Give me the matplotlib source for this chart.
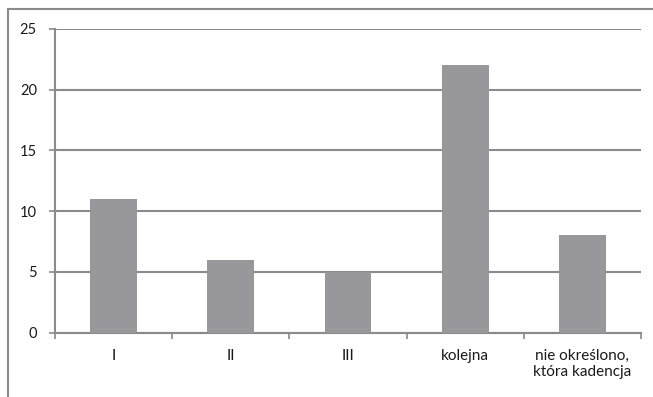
import matplotlib
matplotlib.use("Agg")
import matplotlib.pyplot as plt
from matplotlib.patches import Rectangle

categories = ["I", "II", "III", "kolejna", "nie określono,\nktóra kadencja"]
values = [11, 6, 5, 22, 8]
yticks = [0, 5, 10, 15, 20, 25]

W, H = 653, 397
fig = plt.figure(figsize=(W / 100, H / 100), dpi=100)
plt.rcParams["font.family"] = ["Lato", "DejaVu Sans"]

grid_c = "#8a8a8a"
text_c = "#1a1a1a"
bar_c = "#98989c"

# outer chart frame (only top and left edges fall inside the image)
fig.patches.append(Rectangle((8 / W, -0.1), 1.2, 1 - 9 / H + 0.1,
                             transform=fig.transFigure, fill=False,
                             edgecolor=grid_c, linewidth=1.5))

left, right, top, bottom = 55, 641, 29, 332.5
ax = fig.add_axes([left / W, 1 - bottom / H, (right - left) / W, (bottom - top) / H])

x = range(len(categories))
ax.bar(x, values, width=0.4, color=bar_c, zorder=3)
ax.set_xlim(-0.5, len(categories) - 0.5)
ax.set_ylim(0, 25)

ax.set_yticks(yticks)
ax.set_yticklabels([str(v) for v in yticks], fontsize=10.5, color=text_c)
ax.yaxis.grid(True, color=grid_c, linewidth=1.5, zorder=0)
ax.tick_params(axis="y", length=4, width=1.2, color=grid_c, pad=9)

ax.set_xticks([i + 0.5 for i in range(-1, len(categories))], minor=False)
ax.set_xticklabels([])
ax.tick_params(axis="x", which="major", length=4, width=1.2, color=grid_c,
               direction="out")
ax.set_xticks(list(x), minor=True)
ax.set_xticklabels(categories, minor=True, fontsize=11, color=text_c,
                   linespacing=1.2)
ax.tick_params(axis="x", which="minor", length=0, pad=12)

for s in ["top", "right"]:
    ax.spines[s].set_visible(False)
for s in ["left", "bottom"]:
    ax.spines[s].set_color(grid_c)
    ax.spines[s].set_linewidth(1.5)

fig.savefig("out.png", dpi=100)
